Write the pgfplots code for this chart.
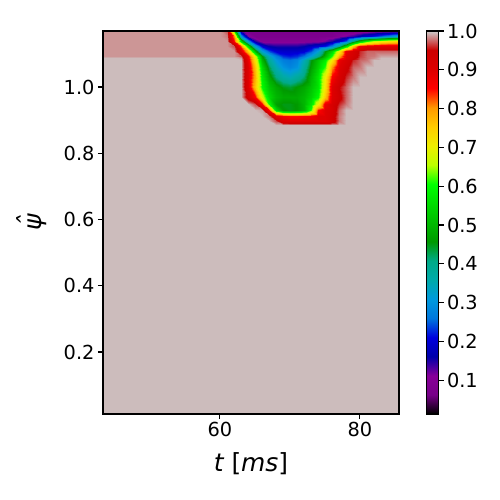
\documentclass[border=0pt]{standalone}
\usepackage{pgfplots}
\pgfplotsset{compat=1.18}
\usepackage{fontspec}
\setmainfont{DejaVu Sans}
\pgfplotsset{colormap={nipy}{rgb=(0,0,0) rgb=(0.4667,0,0.5333) rgb=(0.5333,0,0.6) rgb=(0,0,0.6667) rgb=(0,0,0.8667) rgb=(0,0.4667,0.8667) rgb=(0,0.6,0.8667) rgb=(0,0.6667,0.6667) rgb=(0,0.6667,0.5333) rgb=(0,0.6,0) rgb=(0,0.7333,0) rgb=(0,0.8667,0) rgb=(0,1,0) rgb=(0.7333,1,0) rgb=(0.9333,0.9333,0) rgb=(1,0.8,0) rgb=(1,0.6,0) rgb=(1,0,0) rgb=(0.8667,0,0) rgb=(0.8,0,0) rgb=(0.8,0.8,0.8)}}
\newcommand{\psihat}{{\itshape\setbox0=\hbox{ψ}\hbox to \wd0{\hss\hskip0.12em\raisebox{0.2em}{ˆ}\hss}\kern-\wd0\box0}}
\pgfplotstableread[row sep=\\]{
x y v\\
43.3 0.013 0.996\\60 0.013 0.996\\61 0.013 0.996\\62 0.013 0.996\\63 0.013 0.996\\64 0.013 0.996\\65 0.013 0.996\\66 0.013 0.996\\67 0.013 0.996\\68 0.013 0.996\\69 0.013 0.996\\70 0.013 0.996\\71 0.013 0.996\\72 0.013 0.996\\73 0.013 0.996\\74 0.013 0.996\\75 0.013 0.996\\76 0.013 0.996\\77 0.013 0.996\\78 0.013 0.996\\79 0.013 0.996\\80 0.013 0.996\\81 0.013 0.996\\82 0.013 0.996\\83 0.013 0.996\\84 0.013 0.996\\85.6 0.013 0.996\\
43.3 0.885 0.996\\60 0.885 0.996\\61 0.885 0.996\\62 0.885 0.996\\63 0.885 0.996\\64 0.885 0.996\\65 0.885 0.996\\66 0.885 0.996\\67 0.885 0.996\\68 0.885 0.996\\69 0.885 0.996\\70 0.885 0.996\\71 0.885 0.996\\72 0.885 0.996\\73 0.885 0.996\\74 0.885 0.996\\75 0.885 0.996\\76 0.885 0.996\\77 0.885 0.996\\78 0.885 0.996\\79 0.885 0.996\\80 0.885 0.996\\81 0.885 0.996\\82 0.885 0.996\\83 0.885 0.996\\84 0.885 0.996\\85.6 0.885 0.996\\
43.3 0.898 0.996\\60 0.898 0.996\\61 0.898 0.996\\62 0.898 0.996\\63 0.898 0.996\\64 0.898 0.996\\65 0.898 0.996\\66 0.898 0.996\\67 0.898 0.996\\68 0.898 0.97\\69 0.898 0.91\\70 0.898 0.9\\71 0.898 0.9\\72 0.898 0.9\\73 0.898 0.9\\74 0.898 0.9\\75 0.898 0.9\\76 0.898 0.93\\77 0.898 0.98\\78 0.898 0.996\\79 0.898 0.996\\80 0.898 0.996\\81 0.898 0.996\\82 0.898 0.996\\83 0.898 0.996\\84 0.898 0.996\\85.6 0.898 0.996\\
43.3 0.912 0.996\\60 0.912 0.996\\61 0.912 0.996\\62 0.912 0.996\\63 0.912 0.996\\64 0.912 0.996\\65 0.912 0.996\\66 0.912 0.996\\67 0.912 0.98\\68 0.912 0.9\\69 0.912 0.87\\70 0.912 0.85\\71 0.912 0.85\\72 0.912 0.86\\73 0.912 0.87\\74 0.912 0.9\\75 0.912 0.9\\76 0.912 0.93\\77 0.912 0.98\\78 0.912 0.996\\79 0.912 0.996\\80 0.912 0.996\\81 0.912 0.996\\82 0.912 0.996\\83 0.912 0.996\\84 0.912 0.996\\85.6 0.912 0.996\\
43.3 0.93 0.996\\60 0.93 0.996\\61 0.93 0.996\\62 0.93 0.996\\63 0.93 0.996\\64 0.93 0.996\\65 0.93 0.996\\66 0.93 0.99\\67 0.93 0.85\\68 0.93 0.55\\69 0.93 0.46\\70 0.93 0.45\\71 0.93 0.46\\72 0.93 0.5\\73 0.93 0.62\\74 0.93 0.85\\75 0.93 0.9\\76 0.93 0.92\\77 0.93 0.975\\78 0.93 0.996\\79 0.93 0.996\\80 0.93 0.996\\81 0.93 0.996\\82 0.93 0.996\\83 0.93 0.996\\84 0.93 0.996\\85.6 0.93 0.996\\
43.3 0.95 0.996\\60 0.95 0.996\\61 0.95 0.996\\62 0.95 0.996\\63 0.95 0.996\\64 0.95 0.996\\65 0.95 0.97\\66 0.95 0.86\\67 0.95 0.6\\68 0.95 0.47\\69 0.95 0.45\\70 0.95 0.45\\71 0.95 0.46\\72 0.95 0.5\\73 0.95 0.57\\74 0.95 0.7\\75 0.95 0.88\\76 0.95 0.92\\77 0.95 0.96\\78 0.95 0.98\\79 0.95 0.996\\80 0.95 0.996\\81 0.95 0.996\\82 0.95 0.996\\83 0.95 0.996\\84 0.95 0.996\\85.6 0.95 0.996\\
43.3 0.97 0.996\\60 0.97 0.996\\61 0.97 0.996\\62 0.97 0.996\\63 0.97 0.996\\64 0.97 0.93\\65 0.97 0.86\\66 0.97 0.68\\67 0.97 0.55\\68 0.97 0.5\\69 0.97 0.48\\70 0.97 0.48\\71 0.97 0.48\\72 0.97 0.5\\73 0.97 0.54\\74 0.97 0.6\\75 0.97 0.76\\76 0.97 0.9\\77 0.97 0.94\\78 0.97 0.975\\79 0.97 0.996\\80 0.97 0.996\\81 0.97 0.996\\82 0.97 0.996\\83 0.97 0.996\\84 0.97 0.996\\85.6 0.97 0.996\\
43.3 1.0 0.996\\60 1.0 0.996\\61 1.0 0.996\\62 1.0 0.996\\63 1.0 0.996\\64 1.0 0.9\\65 1.0 0.76\\66 1.0 0.6\\67 1.0 0.52\\68 1.0 0.48\\69 1.0 0.45\\70 1.0 0.44\\71 1.0 0.46\\72 1.0 0.48\\73 1.0 0.52\\74 1.0 0.57\\75 1.0 0.72\\76 1.0 0.9\\77 1.0 0.95\\78 1.0 0.975\\79 1.0 0.996\\80 1.0 0.996\\81 1.0 0.996\\82 1.0 0.996\\83 1.0 0.996\\84 1.0 0.996\\85.6 1.0 0.996\\
43.3 1.03 0.996\\60 1.03 0.996\\61 1.03 0.996\\62 1.03 0.996\\63 1.03 0.996\\64 1.03 0.9\\65 1.03 0.78\\66 1.03 0.58\\67 1.03 0.48\\68 1.03 0.41\\69 1.03 0.37\\70 1.03 0.35\\71 1.03 0.38\\72 1.03 0.42\\73 1.03 0.5\\74 1.03 0.57\\75 1.03 0.7\\76 1.03 0.86\\77 1.03 0.92\\78 1.03 0.96\\79 1.03 0.98\\80 1.03 0.996\\81 1.03 0.996\\82 1.03 0.996\\83 1.03 0.996\\84 1.03 0.996\\85.6 1.03 0.996\\
43.3 1.06 0.996\\60 1.06 0.996\\61 1.06 0.996\\62 1.06 0.996\\63 1.06 0.996\\64 1.06 0.9\\65 1.06 0.76\\66 1.06 0.55\\67 1.06 0.43\\68 1.06 0.35\\69 1.06 0.3\\70 1.06 0.28\\71 1.06 0.3\\72 1.06 0.38\\73 1.06 0.47\\74 1.06 0.54\\75 1.06 0.62\\76 1.06 0.8\\77 1.06 0.9\\78 1.06 0.94\\79 1.06 0.975\\80 1.06 0.98\\81 1.06 0.996\\82 1.06 0.996\\83 1.06 0.996\\84 1.06 0.996\\85.6 1.06 0.996\\
43.3 1.08 0.996\\60 1.08 0.996\\61 1.08 0.996\\62 1.08 0.996\\63 1.08 0.996\\64 1.08 0.88\\65 1.08 0.72\\66 1.08 0.5\\67 1.08 0.38\\68 1.08 0.31\\69 1.08 0.27\\70 1.08 0.26\\71 1.08 0.28\\72 1.08 0.35\\73 1.08 0.45\\74 1.08 0.52\\75 1.08 0.58\\76 1.08 0.72\\77 1.08 0.88\\78 1.08 0.92\\79 1.08 0.96\\80 1.08 0.975\\81 1.08 0.98\\82 1.08 0.996\\83 1.08 0.996\\84 1.08 0.996\\85.6 1.08 0.996\\
43.3 1.088 0.996\\60 1.088 0.996\\61 1.088 0.996\\62 1.088 0.996\\63 1.088 0.99\\64 1.088 0.87\\65 1.088 0.7\\66 1.088 0.48\\67 1.088 0.36\\68 1.088 0.29\\69 1.088 0.25\\70 1.088 0.24\\71 1.088 0.25\\72 1.088 0.3\\73 1.088 0.38\\74 1.088 0.46\\75 1.088 0.54\\76 1.088 0.66\\77 1.088 0.82\\78 1.088 0.9\\79 1.088 0.94\\80 1.088 0.97\\81 1.088 0.978\\82 1.088 0.985\\83 1.088 0.996\\84 1.088 0.996\\85.6 1.088 0.996\\
43.3 1.095 0.987\\60 1.095 0.987\\61 1.095 0.987\\62 1.095 0.987\\63 1.095 0.97\\64 1.095 0.86\\65 1.095 0.68\\66 1.095 0.46\\67 1.095 0.34\\68 1.095 0.27\\69 1.095 0.23\\70 1.095 0.22\\71 1.095 0.23\\72 1.095 0.26\\73 1.095 0.32\\74 1.095 0.4\\75 1.095 0.5\\76 1.095 0.62\\77 1.095 0.78\\78 1.095 0.9\\79 1.095 0.93\\80 1.095 0.965\\81 1.095 0.978\\82 1.095 0.98\\83 1.095 0.99\\84 1.095 0.99\\85.6 1.095 0.99\\
43.3 1.11 0.987\\60 1.11 0.987\\61 1.11 0.987\\62 1.11 0.987\\63 1.11 0.9\\64 1.11 0.75\\65 1.11 0.5\\66 1.11 0.32\\67 1.11 0.24\\68 1.11 0.2\\69 1.11 0.19\\70 1.11 0.19\\71 1.11 0.19\\72 1.11 0.2\\73 1.11 0.24\\74 1.11 0.32\\75 1.11 0.45\\76 1.11 0.55\\77 1.11 0.7\\78 1.11 0.88\\79 1.11 0.92\\80 1.11 0.96\\81 1.11 0.975\\82 1.11 0.975\\83 1.11 0.975\\84 1.11 0.975\\85.6 1.11 0.975\\
43.3 1.125 0.987\\60 1.125 0.987\\61 1.125 0.987\\62 1.125 0.97\\63 1.125 0.82\\64 1.125 0.55\\65 1.125 0.32\\66 1.125 0.2\\67 1.125 0.16\\68 1.125 0.15\\69 1.125 0.15\\70 1.125 0.15\\71 1.125 0.15\\72 1.125 0.16\\73 1.125 0.18\\74 1.125 0.2\\75 1.125 0.22\\76 1.125 0.28\\77 1.125 0.4\\78 1.125 0.55\\79 1.125 0.75\\80 1.125 0.88\\81 1.125 0.9\\82 1.125 0.9\\83 1.125 0.9\\84 1.125 0.9\\85.6 1.125 0.9\\
43.3 1.14 0.987\\60 1.14 0.987\\61 1.14 0.987\\62 1.14 0.85\\63 1.14 0.55\\64 1.14 0.3\\65 1.14 0.15\\66 1.14 0.1\\67 1.14 0.1\\68 1.14 0.1\\69 1.14 0.1\\70 1.14 0.1\\71 1.14 0.1\\72 1.14 0.1\\73 1.14 0.1\\74 1.14 0.1\\75 1.14 0.12\\76 1.14 0.15\\77 1.14 0.19\\78 1.14 0.25\\79 1.14 0.4\\80 1.14 0.52\\81 1.14 0.6\\82 1.14 0.66\\83 1.14 0.7\\84 1.14 0.72\\85.6 1.14 0.74\\
43.3 1.155 0.987\\60 1.155 0.987\\61 1.155 0.98\\62 1.155 0.8\\63 1.155 0.3\\64 1.155 0.12\\65 1.155 0.08\\66 1.155 0.08\\67 1.155 0.08\\68 1.155 0.08\\69 1.155 0.08\\70 1.155 0.08\\71 1.155 0.08\\72 1.155 0.08\\73 1.155 0.08\\74 1.155 0.08\\75 1.155 0.08\\76 1.155 0.08\\77 1.155 0.1\\78 1.155 0.12\\79 1.155 0.14\\80 1.155 0.17\\81 1.155 0.2\\82 1.155 0.22\\83 1.155 0.25\\84 1.155 0.28\\85.6 1.155 0.32\\
43.3 1.169 0.987\\60 1.169 0.987\\61 1.169 0.97\\62 1.169 0.6\\63 1.169 0.15\\64 1.169 0.075\\65 1.169 0.075\\66 1.169 0.075\\67 1.169 0.075\\68 1.169 0.075\\69 1.169 0.075\\70 1.169 0.075\\71 1.169 0.075\\72 1.169 0.075\\73 1.169 0.075\\74 1.169 0.075\\75 1.169 0.075\\76 1.169 0.075\\77 1.169 0.075\\78 1.169 0.075\\79 1.169 0.075\\80 1.169 0.085\\81 1.169 0.09\\82 1.169 0.1\\83 1.169 0.1\\84 1.169 0.1\\85.6 1.169 0.1\\
}\fielddata
\begin{document}
\begin{tikzpicture}
\path[use as bounding box] (-103bp,-86bp) rectangle (397bp,414bp);
\begin{axis}[
  at={(0bp,0bp)}, anchor=south west,
  scale only axis, width=296bp, height=383bp,
  xmin=43.3, xmax=85.6, ymin=0.013, ymax=1.169,
  colormap name=nipy,
  point meta min=0.013, point meta max=1,
  axis on top,
  xtick={60,80}, xticklabels={60,80},
  ytick={0.2,0.4,0.6,0.8,1.0}, yticklabels={0.2,0.4,0.6,0.8,1.0},
  tick align=outside, major tick length=5bp,
  xtick pos=bottom, ytick pos=left,
  every tick/.style={black, line width=1.1bp},
  axis line style={line width=1.1bp},
  /pgf/number format/assume math mode=true,
  tick label style={font=\fontsize{19.4}{23}\selectfont},
  xlabel={\itshape t\upshape\ [\itshape ms\upshape]},
  xlabel style={font=\fontsize{25}{30}\selectfont, at={(axis description cs:0.5,0)}, anchor=base, yshift=-57bp},
  ylabel={\psihat},
  ylabel style={font=\fontsize{25}{30}\selectfont, at={(axis description cs:0,0.5)}, anchor=center, yshift=71bp},
  colorbar,
  colorbar style={
    at={(parent axis.north east)}, anchor=north west, xshift=19bp,
    scale only axis, width=12bp, height=383bp,
    ytick={0.1,0.2,0.3,0.4,0.5,0.6,0.7,0.8,0.9,1.0},
    yticklabels={0.1,0.2,0.3,0.4,0.5,0.6,0.7,0.8,0.9,1.0},
    tick align=outside, major tick length=5bp,
    ytick pos=right, yticklabel pos=right,
    every tick/.style={black, line width=1.1bp},
    axis line style={line width=1.1bp},
    tick label style={font=\fontsize{19.4}{23}\selectfont},
  },
]
\addplot[surf, shader=interp, mesh/cols=27, point meta=explicit] table[x=x, y=y, meta=v] {\fielddata};
\end{axis}
\end{tikzpicture}
\end{document}
